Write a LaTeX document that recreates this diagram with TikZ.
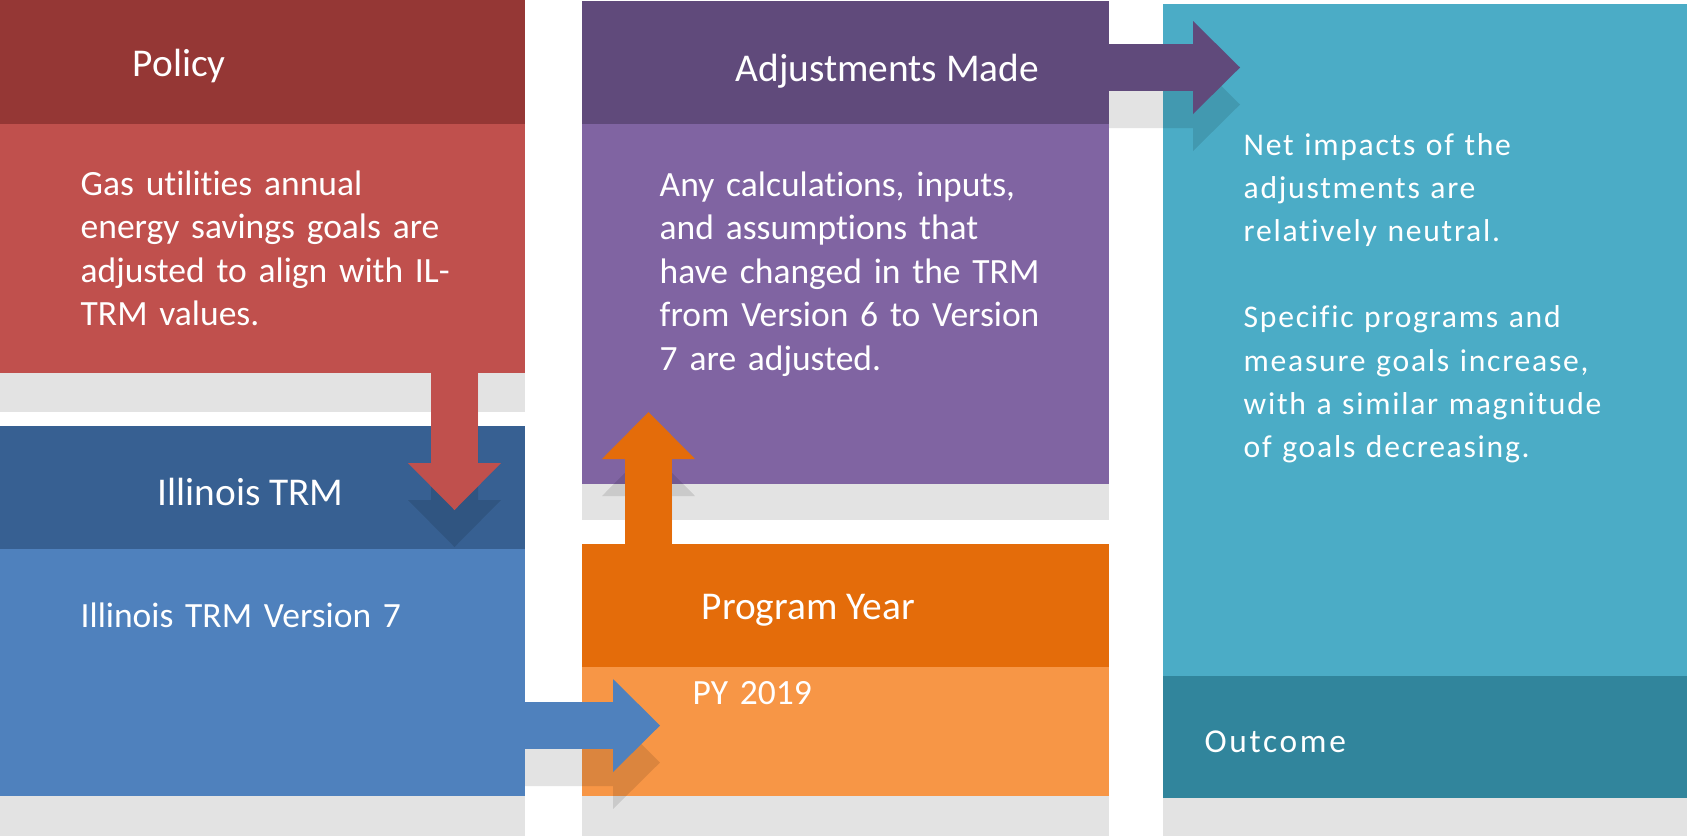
\documentclass[tikz,border=0pt]{standalone}
\usepackage{fontspec}
\setmainfont{Carlito}[Ligatures=NoCommon]
\usepackage{xcolor}
\usetikzlibrary{arrows.meta}

\definecolor{policyDark}{HTML}{953735}
\definecolor{policyLight}{HTML}{C0504D}
\definecolor{trmDark}{HTML}{376092}
\definecolor{trmLight}{HTML}{4F81BD}
\definecolor{adjDark}{HTML}{604A7B}
\definecolor{adjLight}{HTML}{8064A2}
\definecolor{pyDark}{HTML}{E46C0A}
\definecolor{pyLight}{HTML}{F79646}
\definecolor{outDark}{HTML}{31859C}
\definecolor{outLight}{HTML}{4BACC6}
\definecolor{bandgray}{HTML}{E3E3E3}

\begin{document}
\begin{tikzpicture}[
	blockarrow/.style={
		line width=4.7mm,
		-{Triangle[length=4.7mm,width=9.3mm,line width=0pt]}
	}]
	%\draw[help lines] (0,-9) grid (17,0);
	\tikzstyle{box} = [anchor=north west,inner sep=0pt,outer sep=0pt]
	\tikzstyle{band} = [fill=bandgray]
	\tikzstyle{headtext} = [anchor=base west,inner sep=0pt,text=white,font=\fontsize{11.2}{13.7}\selectfont]
	\tikzstyle{bodytext} = [anchor=base west,inner sep=0pt,text=white,text width=5cm,align=left,font=\fontsize{10.1}{12.4}\selectfont]
	\tikzstyle{widetext} = [anchor=base west,inner sep=0pt,text=white,text width=5cm,align=left,font=\fontsize{9}{12.3}\selectfont\addfontfeatures{LetterSpace=5.5}]
	\tikzstyle{shade} = [black,opacity=0.11,transparency group]
	
	\useasboundingbox (0,0) rectangle (16.87,-8.36);
	
	% gray bands under the boxes
	\fill[band] (0,-3.73) rectangle (5.25,-4.12);
	\fill[band] (0,-7.96) rectangle (5.25,-8.36);
	\fill[band] (5.82,-4.84) rectangle (11.09,-5.20);
	\fill[band] (5.82,-7.96) rectangle (11.09,-8.36);
	\fill[band] (11.63,-7.98) rectangle (16.87,-8.36);
	
	\node[box,fill=trmDark,minimum width=5.25cm,minimum height=1.23cm] (trmHead) at (0,-4.26) {};
	\node[box,fill=adjLight,minimum width=5.27cm,minimum height=3.60cm] (adjBody) at (5.82,-1.24) {};
	\node[box,fill=pyLight,minimum width=5.27cm,minimum height=1.29cm] (pyBody) at (5.82,-6.67) {};
	\node[box,fill=outLight,minimum width=5.24cm,minimum height=6.72cm] (outBody) at (11.63,-0.04) {};
	
	\coordinate (redFrom) at (4.545,-3.30);
	\coordinate (redTo) at (4.545,-5.10);
	\coordinate (orangeFrom) at (6.485,-5.60);
	\coordinate (orangeTo) at (6.485,-4.12);
	\coordinate (blueFrom) at (5.25,-7.255);
	\coordinate (blueTo) at (6.60,-7.255);
	\coordinate (purpleFrom) at (11.09,-0.675);
	\coordinate (purpleTo) at (12.40,-0.675);
	
	\begin{scope}[shade]
		\draw[blockarrow] ([yshift=-3.7mm]redFrom) -- ([yshift=-3.7mm]redTo);
	\end{scope}
	\begin{scope}[shade]
		\draw[blockarrow] ([yshift=-3.7mm]orangeFrom) -- ([yshift=-3.7mm]orangeTo);
	\end{scope}
	\begin{scope}[shade]
		\draw[blockarrow] ([yshift=-3.7mm]blueFrom) -- ([yshift=-3.7mm]blueTo);
	\end{scope}
	\begin{scope}[shade]
		\draw[blockarrow] ([yshift=-3.7mm]purpleFrom) -- ([yshift=-3.7mm]purpleTo);
	\end{scope}
	
	\draw[blockarrow,policyLight] (redFrom) -- (redTo);
	\draw[blockarrow,pyDark] (orangeFrom) -- (orangeTo);
	\draw[blockarrow,trmLight] (blueFrom) -- (blueTo);
	\draw[blockarrow,adjDark] (purpleFrom) -- (purpleTo);
	
	\node[box,fill=policyDark,minimum width=5.25cm,minimum height=1.24cm] (policyHead) at (0,0) {};
	\node[box,fill=policyLight,minimum width=5.25cm,minimum height=2.49cm] (policyBody) at (0,-1.24) {};
	\node[box,fill=trmLight,minimum width=5.25cm,minimum height=2.47cm] (trmBody) at (0,-5.49) {};
	\node[box,fill=adjDark,minimum width=5.27cm,minimum height=1.23cm] (adjHead) at (5.82,-0.01) {};
	\node[box,fill=pyDark,minimum width=5.27cm,minimum height=1.23cm] (pyHead) at (5.82,-5.44) {};
	\node[box,fill=outDark,minimum width=5.24cm,minimum height=1.22cm] (outHead) at (11.63,-6.76) {};
	
	\node[headtext] (policyTitle) at (1.32,-0.76) {Policy};
	\node[bodytext] (policyText) at (0.80,-1.95) {Gas utilities annual\\energy savings goals are\\adjusted to align with IL-\\TRM values.};
	\node[headtext] (trmTitle) at (1.57,-5.05) {Illinois TRM};
	\node[bodytext] (trmText) at (0.80,-6.27) {Illinois TRM Version 7};
	\node[headtext] (adjTitle) at (7.35,-0.81) {Adjustments Made};
	\node[bodytext] (adjText) at (6.59,-1.96) {Any calculations, inputs,\\and assumptions that\\have changed in the TRM\\from Version 6 to Version\\7 are adjusted.};
	\node[headtext] (pyTitle) at (7.01,-6.19) {Program Year};
	\node[bodytext] (pyText) at (6.92,-7.04) {PY 2019};
	\node[widetext] (outText) at (12.43,-1.55) {Net impacts of the\\adjustments are\\relatively neutral.\\[12.3pt]Specific programs and\\measure goals increase,\\with a similar magnitude\\of goals decreasing.};
	\node[widetext,font=\fontsize{9.5}{12}\selectfont\addfontfeatures{LetterSpace=8}] (outTitle) at (12.04,-7.52) {Outcome};
	
\end{tikzpicture}
\end{document}
